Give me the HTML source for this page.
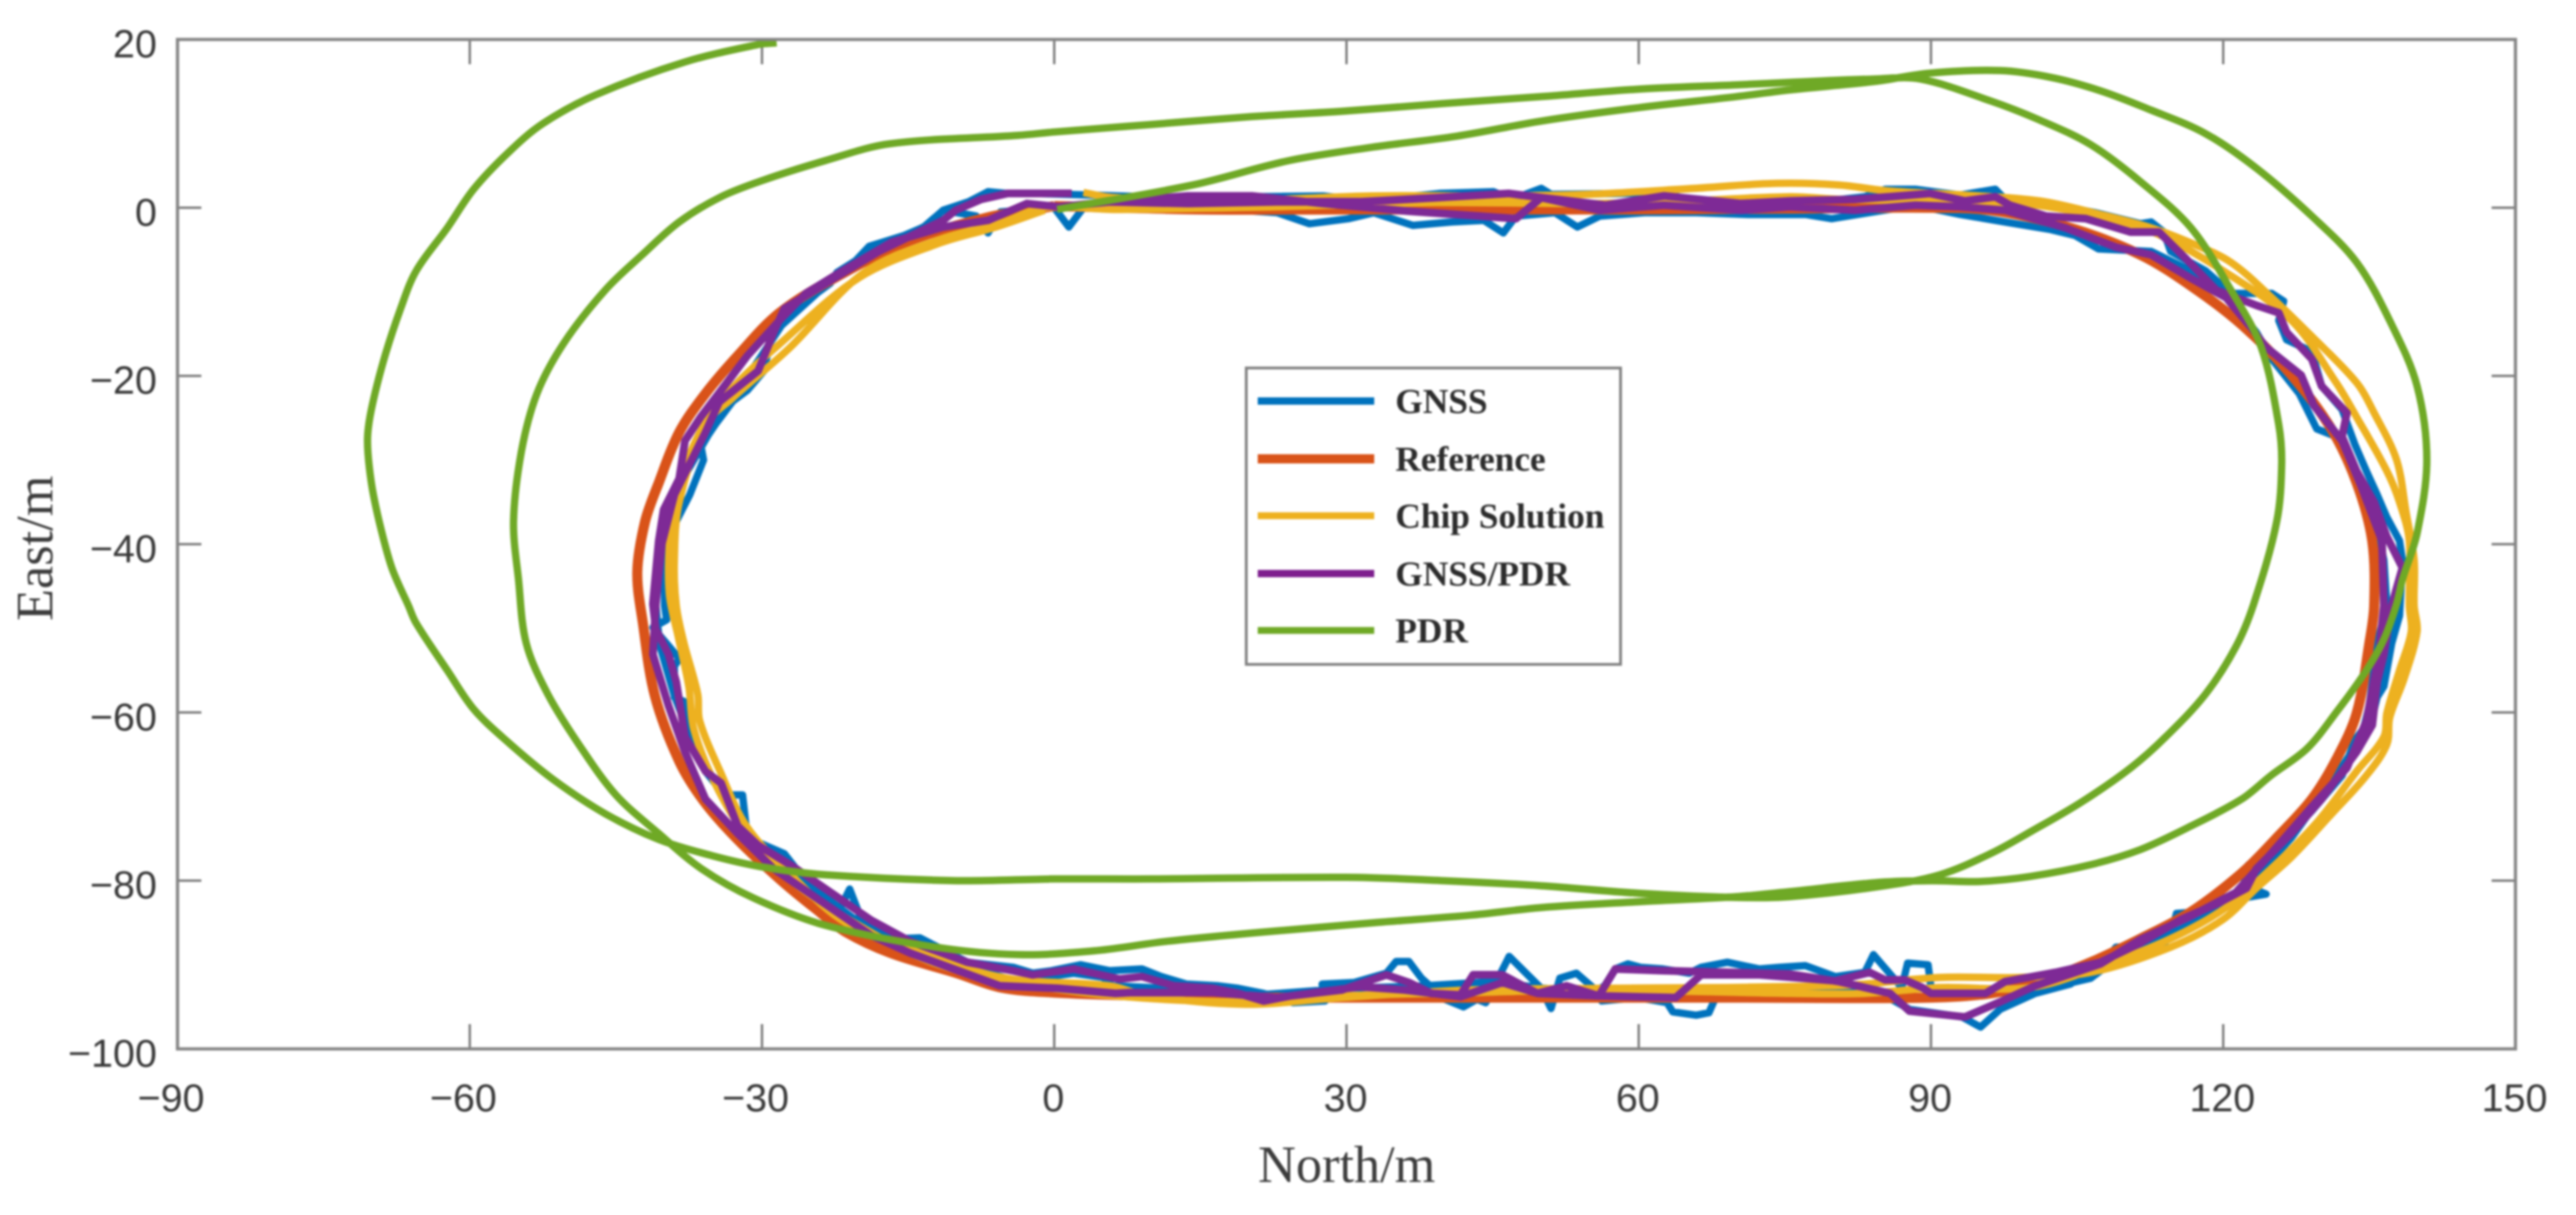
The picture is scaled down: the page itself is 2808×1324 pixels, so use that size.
<!DOCTYPE html>
<html lang="en">
<head>
<meta charset="utf-8">
<title>Trajectory comparison chart</title>
<style>
  html, body { margin: 0; padding: 0; background: #fff; }
  #chart { display: block; width: 2808px; height: 1324px; filter: blur(1px); }
  .tick-label { font-family: "Liberation Sans", sans-serif; font-size: 43px; fill: #383838; }
  .axis-title { font-family: "Liberation Serif", serif; font-size: 57px; fill: #3c3c3c; }
  .legend-text { font-family: "Liberation Serif", serif; font-weight: bold; font-size: 38.5px; fill: #2c2c2c; }
</style>
</head>
<body>
<svg id="chart" xmlns="http://www.w3.org/2000/svg" width="2808" height="1324" viewBox="0 0 2808 1324">
  <rect x="0" y="0" width="2808" height="1324" fill="#fff"/>
  <g id="ticks"></g>
  <g id="series"></g>
  <rect x="193.5" y="43" width="2548.5" height="1100" fill="none" stroke="#858585" stroke-width="3.5"/>
  <text class="axis-title" x="1468" y="1288" text-anchor="middle">North/m</text>
  <text class="axis-title" transform="translate(57,597.5) rotate(-90)" text-anchor="middle">East/m</text>
  <g>
    <rect x="1358.5" y="401" width="408" height="323" fill="#fff" stroke="#808080" stroke-width="3"/>
    <g>
      <line x1="1371" y1="437" x2="1498" y2="437" stroke="#0072BD" stroke-width="8"/>
      <text class="legend-text" x="1521" y="450">GNSS</text>
    </g>
    <g>
      <line x1="1371" y1="500" x2="1498" y2="500" stroke="#D95319" stroke-width="10"/>
      <text class="legend-text" x="1521" y="513">Reference</text>
    </g>
    <g>
      <line x1="1371" y1="562" x2="1498" y2="562" stroke="#EDB120" stroke-width="7.5"/>
      <text class="legend-text" x="1521" y="575">Chip Solution</text>
    </g>
    <g>
      <line x1="1371" y1="625" x2="1498" y2="625" stroke="#7E1F8E" stroke-width="8"/>
      <text class="legend-text" x="1521" y="638">GNSS/PDR</text>
    </g>
    <g>
      <line x1="1371" y1="687" x2="1498" y2="687" stroke="#6FA926" stroke-width="7.5"/>
      <text class="legend-text" x="1521" y="700">PDR</text>
    </g>
  </g>
</svg>
<script>
const xTickValues = [-90, -60, -30, 0, 30, 60, 90, 120, 150];
const yTickValues = [20, 0, -20, -40, -60, -80, -100];

const gnssNorth = [1.1,12.4,27.6,32,39.5,45.1,47,50,51,59.3,61.6,66,75.5,83.2,85.3,88.4,93,96.6,97.6,102.8,106.9,111.5,112.6,113.9,114.6,118.2,120.8,125,126.2,125.7,126.5,129.1,130.1,132.2,133.5,134.7,135.8,136.8,138.1,138.4,138.1,137.3,136.5,135.8,135.3,133.5,132.2,129.1,124.9,122.6,122.1,124.4,121.9,119.8,115.2,114.6,113.6,109,107.4,104.3,100.7,97.1,95.1,93.2,87.8,85,80.2,69.1,68,67.2,65.9,63.5,62.9,59.9,56.2,55.3,53.6,51.9,51,50,46.7,44.3,43.4,42,40.1,37.7,36.4,35.1,34.1,30.8,27.5,27.8,24.5,21.5,18.9,16.9,13.6,11,9,5.7,2.7,-0.3,-2.2,-4.2,-8.9,-13.8,-18,-20,-21,-22.5,-27.7,-31.5,-32,-33.9,-35.8,-37.4,-38,-39,-39,-38.5,-39.8,-41.2,-39.8,-40,-40,-37.4,-36,-36.3,-33,-31.5,-29.8,-29,-27.1,-23,-22.3,-20.4,-19,-15.4,-13.4,-11.4,-8,-6.8,-5.5,0,1.5,3,15,22.9,26.2,30.2,32.8,36.8,40.8,44.1,46.1,47.4,51.4,53.7,56,60.6,65.9,71.2,77.1,79.8,88.4,93,97.6,102.3,104.8,107.2,112.6,116.7,120.8,123.4,125,127.8,129.6,131.6,133.7,135.8,136.5,136.8,135.8,135,134.2,131.6,127,123.4,119.3,113.6,109,106.4,103.8,100.7,96.1,90,89.7,87.6,87,84.1,83.2,80.2,77.1,74.4,72.4,69.1,66.4,65.2,62.5,60.2,58.9,57.6,56.5,55,45,38,30,22,15,6,5,2,-4,-14,-20,-27,-31,-34,-37,-39,-40.5,-41,-40,-38.5,-35.5,-32,-28,-24,-19,-15,-13.1,-11.4,-8.8,-6.8,-4.8,-2.2,1.1];
const gnssEast = [1.6,1.2,1.4,0.8,1.7,1.9,1,2.3,1.6,1.7,1.9,0.8,0.3,1.3,2.2,2.2,1.5,2.2,1,0.3,-0.6,-1.9,-1.7,-2.9,-5.2,-7.5,-10.2,-10.2,-11.1,-13.4,-15.7,-17.1,-21.2,-24,-28.1,-31.3,-34.1,-36.8,-39.6,-41.9,-48.5,-51.8,-56.9,-58.2,-60.6,-63.3,-67.5,-71.7,-76.8,-78.1,-80.5,-81.6,-82.1,-83.5,-83.9,-86.5,-87.9,-87.9,-90.2,-92.3,-93.4,-95.3,-97.4,-96.2,-95.3,-93.5,-93,-93.4,-93.6,-95.7,-96,-95.6,-94.5,-93.9,-94.3,-92.7,-91,-91.6,-95.2,-92.8,-89,-94.5,-94.1,-95,-94.1,-91.6,-89.6,-89.6,-91,-92.1,-92.3,-94.3,-94.5,-93.4,-92.8,-92.5,-92.3,-91.4,-90.5,-90.7,-90,-90.7,-91,-90.3,-89.7,-86.8,-87,-84,-81,-84.5,-76.8,-74.9,-69.8,-69.8,-67,-63.3,-58.7,-58.2,-54.5,-53.6,-51.8,-49.9,-49,-47.3,-40,-34.1,-30,-28.1,-23,-21.7,-19.4,-15,-12.5,-9,-7.7,-6.3,-4.6,-3.3,-2.3,-0.3,-1,-3,-0.5,0,-2.3,0,0,-0.6,-1.9,-1.3,-0.6,-2.1,-1.7,-1.5,-3,-1,-0.6,-2.3,-1,-0.6,-0.6,-0.8,-0.8,-1.3,0.3,-0.8,-1.7,-2.6,-3.3,-4.9,-5.2,-7.5,-11.1,-14.8,-18,-22.1,-26.3,-27.2,-31.3,-38.2,-41.9,-47.3,-51.8,-59.2,-62.9,-67.5,-74.9,-79.5,-83.7,-86.9,-89.3,-91.6,-92.3,-92,-93.4,-92.7,-90,-89.8,-92.7,-88.8,-90.9,-91.4,-90.1,-90.3,-90.5,-89.7,-90.3,-91,-90.5,-90.3,-89.9,-90.5,-92.5,-93.5,-92,-92.5,-92.8,-93.5,-93,-92.5,-91.5,-91,-92,-88,-85,-79,-75,-70,-64,-58,-52,-46,-38,-33,-27,-21,-14,-9.8,-5,-3.2,-2.1,-0.3,0.7,1.9,1.7,1.7,1.6];

const referenceNorth = [0,15,30,45,60,75,88,96.1,104.3,111.5,116.7,121.9,127,131.1,133.7,135.3,135.5,135,133.7,131.6,129.1,125.5,121.9,116.7,111.5,106.4,101.2,96.1,90,70,50,30,20,10,0,-5.5,-10,-16.8,-21.4,-24,-28,-32.6,-36,-38.5,-41,-42.2,-42.8,-42,-40.6,-38.5,-35.8,-32.5,-28.2,-22,-15,-7,0];
const referenceEast = [0.2,-0.2,-0.2,-0.2,-0.2,-0.1,0,-0.3,-2.4,-5.6,-9.3,-13.9,-19.9,-26.3,-32.7,-39.6,-47.3,-51.8,-60.1,-65.6,-70.3,-74.9,-79.1,-83.7,-86.9,-89.7,-92,-93.4,-93.9,-93.9,-93.9,-93.9,-93.9,-93.7,-93.3,-92.7,-91,-88.6,-86.1,-83.8,-80,-75,-70.5,-65.8,-58,-49.6,-43.3,-37.3,-32.7,-26.7,-22.1,-17.6,-12.5,-8,-4,-1.2,0.2];

const chipNorth = [3,6,15,22.7,32.6,45,55,65.7,74.2,80.6,85.6,93.5,101.2,107.4,112.6,116.7,120.8,125,129.1,133.7,135.5,137.8,138.8,139.6,139.6,139.9,138.6,137.1,136.8,134.7,131.1,127,123.4,120,114.6,106.4,99.2,90.9,83.2,80.2,69.1,55.9,42.7,29.5,19.6,9.6,5.7,-4.9,-13.5,-21.4,-27.3,-31.6,-34.3,-36.4,-36.6,-38,-38.8,-39,-38.5,-35.8,-33,-27.1,-19.5,-11.6,-5.7,-1,6.3,22.7,39.3,55,65,75.5,80.6,90,100,107,113,120,127,131.6,133.7,136.8,138.1,139.1,139.1,139.3,138.1,136.8,136.5,133.7,129.6,124.9,120.3,114.6,107.4,100.2,90.9,83.2,75.7,55.9,42.7,29.5,19.6,6.3,-4.9,-13,-22,-27.5,-32,-35,-37,-37.5,-38.6,-39.5,-39.5,-38.8,-36.5,-33.5,-28,-20,-12,-6,-1];
const chipEast = [1.8,1.2,1,1,1.4,1.4,1.6,2.3,2.9,2.7,2,1.5,0.8,-0.8,-2.4,-4.2,-6.5,-10.7,-15.3,-20.8,-24.4,-30,-36.4,-41.9,-47.3,-50.4,-55.9,-60.6,-63.8,-67.5,-72.1,-77.2,-80.9,-84.6,-87.9,-90.9,-91.5,-91.5,-92.3,-92.5,-92.7,-92.8,-93,-93.9,-94.7,-93.7,-92.5,-91.6,-88.7,-85,-79,-73.5,-67,-61,-57.8,-51.8,-47.3,-41.9,-35,-25.8,-22.6,-16.6,-7.7,-3.7,-1.9,0,-0.2,0.1,0.6,0.5,0.8,1.3,1,0.8,0.4,-1,-3,-7.5,-13.4,-20.8,-24.9,-31.3,-35,-39.6,-47.3,-50.4,-55,-60.1,-62.9,-67,-73.1,-78.6,-83.2,-86.9,-90.2,-92.7,-92.7,-93.4,-93.4,-93,-93.3,-93.7,-94.4,-93.7,-91.9,-89.5,-84,-79.5,-74,-68,-62,-57,-51,-46,-40,-34,-27,-22,-16,-8.3,-4.3,-2.3,-0.3];

const fusionNorth = [5.7,13.7,20.3,27.6,36.2,47.4,50,56.6,62.6,70.5,75.5,82.2,85.8,89.9,93.5,96.6,98.1,101.8,105.9,110.5,113.4,116.2,119.3,123.4,125.7,126.5,129.1,130.1,132.7,132.2,133.7,135.5,136.8,138.4,137.3,136.5,135.8,135.3,133.7,130.1,127,123.4,122.4,119.3,115.7,111.5,107.4,102.8,97.6,95.6,90,89.1,87.3,85.3,83.7,80.2,72.4,66.4,63.8,55.9,52.6,49.6,46,43,41.7,38.7,36.4,34.1,29.5,24.2,21.5,18.9,16.3,12.3,9,6.7,2,-2.2,-4.2,-8.9,-14.8,-18.8,-27.1,-30.4,-32.5,-34.2,-35.8,-37.9,-38.8,-39.6,-40.9,-41.2,-40.6,-40.1,-38.5,-37.9,-36.3,-33.6,-31.5,-28.2,-25.5,-22,-16.7,-11.4,-6.8,-2.8,0.5,5.7,13.7,22.9,31.5,39.5,46.7,50,56,62.6,70.5,75.5,82.2,88.4,93,97.6,103.8,109,112.6,116.7,120.3,122.9,124.4,128,129.3,132.2,134.2,136.3,136.5,136,134.7,132.7,129.1,124.9,121.3,116.7,111.5,107.4,100.7,97.1,93.5,87.8,85.8,80.6,75.5,62.5,57.6,55.9,49.6,46,41.7,36,31.4,22.9,16.3,7.8,6.3,0.4,-5.6,-14.8,-18.8,-28.8,-32.5,-35.8,-37.9,-39.6,-41.2,-40.9,-40.3,-39,-35.8,-34.4,-30.4,-28.8,-27.7,-23.9,-18,-13.4,-11.4,-10.1,-7.5,-4.8,1.8];
const fusionEast = [0.7,1.4,1.4,0.5,-0.4,-1.3,1.2,0.3,1.4,0.5,0.8,1,1.3,1.7,0.8,1.3,0.3,-1,-1.3,-2.9,-2.9,-6.1,-9.8,-11.6,-12.5,-14.8,-18,-21.2,-24.4,-27.2,-31.3,-35,-39.1,-42.8,-47.3,-53.1,-56.4,-61.5,-64.7,-70.3,-74.4,-78.6,-80.9,-82.8,-84.6,-87.4,-89.7,-90.9,-92,-93.4,-93.4,-92.7,-91.8,-91.8,-90.9,-91.9,-91.2,-91.2,-93.9,-93.7,-92.5,-93.4,-91.2,-91.2,-93.6,-93.4,-92.1,-91.2,-93,-93.7,-94.3,-93.4,-92.8,-92.5,-91.4,-91.7,-90.5,-91.2,-90.7,-89.7,-87.2,-84.7,-78.1,-75.8,-73.5,-68.4,-67,-62.9,-56.4,-53.1,-50.1,-47.1,-39.6,-35.9,-32.2,-27.7,-24.9,-20.8,-17.6,-13.4,-10.2,-7.7,-4.1,-2.3,-1.5,0.5,0.1,0.7,0.5,0.7,0.7,1.2,1.7,1.2,-0.3,0.3,-0.3,0.1,-0.3,0.3,0.1,-0.3,-2.4,-4.7,-5.6,-8.4,-10.7,-14.3,-16.6,-19.9,-23.5,-27.7,-33.2,-39.6,-47.3,-53,-61,-66.6,-71.2,-76.8,-81.4,-84.2,-87,-89.9,-92.5,-94.4,-96.2,-95.5,-93.4,-92,-91.1,-90.7,-90.5,-93.7,-93.4,-92.1,-93.8,-93,-92.6,-93.9,-93.3,-93.3,-93.4,-92.8,-92.5,-88.6,-86.5,-78.6,-74.4,-70.3,-64.7,-59.2,-53.1,-47.1,-40,-34.1,-26.7,-23.1,-19.4,-14.8,-12,-9.3,-5.2,-2.6,-1.5,-0.3,1,1.7,1.7];

const pdrNorth = [0.3,14.2,24.1,32.7,41.3,50,60,70,75.5,84.2,89.9,97.1,102.3,107.4,112.6,118.2,123.4,129.1,133.7,137.3,139.9,140.9,139.9,138.4,137.8,136.5,134.7,131.6,128.6,124.9,121.9,116.7,111.5,106.4,100.2,95,90,84.7,75.5,70,60,50,42.7,32.8,21.5,11.6,4.4,-3.6,-12.2,-23.5,-30.8,-36.2,-40.6,-45,-48.8,-52,-54.2,-55,-55.5,-54.7,-53.1,-50.4,-46.1,-42.3,-38.5,-34.2,-29.8,-23.5,-16.9,-3.7,0,10,20,30,40,50,60,70,75.5,84.2,88.9,96.1,101.2,106.4,111.5,116.7,120.8,123.9,125.7,126,125.5,123.1,121.3,118.2,114.1,110.5,105.4,100.2,96.1,90.9,84.7,75.5,70,60,50,40,30,10,0,-10,-23.5,-29.8,-35.2,-40.6,-46,-51.4,-56.3,-59.6,-62.3,-65.5,-66.3,-68,-69.3,-70.1,-70.5,-70.1,-68.8,-67.1,-65.5,-62.3,-59.6,-56.1,-52.5,-47.1,-38,-30.4,-28.5];
const pdrEast = [-0.2,2.7,5.6,7.2,8.5,10.3,11.9,13.2,14,15,16,16.3,15.5,13.9,11.6,8.8,4.7,-1,-6.5,-13.9,-21.2,-30,-38.7,-44.2,-47.1,-51.3,-55,-60,-64.3,-67.5,-70.3,-73.5,-76.3,-78.1,-79.5,-80.1,-80,-80.2,-81.3,-81.9,-82.5,-83.2,-84.1,-85,-86.1,-87.2,-88.3,-88.8,-87.9,-85.3,-82.1,-78.6,-74.4,-69.8,-63.8,-57.8,-51.8,-44.2,-37.3,-29,-22.1,-16.2,-9.8,-5.6,-1.7,1.3,3.3,5.6,7.6,8.6,9,9.9,10.8,11.5,12.4,13.2,14.1,14.6,14.9,15.3,15.3,12.7,10.4,7.5,3.1,-2.4,-9.8,-16.6,-25.8,-30.4,-37.3,-47.2,-52.2,-57.8,-62.9,-66.6,-70.7,-74.2,-76.8,-79.3,-80.7,-81.9,-82,-81.5,-80.6,-80,-79.6,-79.8,-79.8,-80,-79.3,-78.4,-77,-75.1,-72.1,-68,-63.3,-59.6,-55,-49.4,-47.3,-42.8,-37.3,-32.7,-27.7,-24,-18,-12,-7.5,-2.4,2.2,6.5,10,13.4,17.3,19.4,19.6];

const SVG_NS = 'http://www.w3.org/2000/svg';
const plotLeft = 193.5, plotRight = 2742, plotTop = 43, plotBottom = 1143;
const xMin = -90, xMax = 150, yMin = -100, yMax = 20;
function xScale(v) { return plotLeft + (v - xMin) / (xMax - xMin) * (plotRight - plotLeft); }
function yScale(v) { return plotBottom - (v - yMin) / (yMax - yMin) * (plotBottom - plotTop); }
function formatTick(v) { return v < 0 ? '\u2212' + Math.abs(v) : String(v); }

const ticksGroup = document.getElementById('ticks');
const seriesGroup = document.getElementById('series');

xTickValues.forEach(function (v) {
  const px = xScale(v);
  [[plotBottom, plotBottom - 27], [plotTop, plotTop + 27]].forEach(function (pair) {
    const tick = document.createElementNS(SVG_NS, 'line');
    
    
    tick.setAttribute('x1', px);
    tick.setAttribute('x2', px);
    tick.setAttribute('y1', pair[0]);
    tick.setAttribute('y2', pair[1]);
    tick.setAttribute('stroke', '#777');
    tick.setAttribute('stroke-width', '2.5');
    ticksGroup.appendChild(tick);
  });
  const label = document.createElementNS(SVG_NS, 'text');
  
  
  label.setAttribute('class', 'tick-label');
  label.setAttribute('x', px + (v < 0 ? -7 : -1));
  label.setAttribute('y', 1211);
  label.setAttribute('text-anchor', 'middle');
  label.textContent = formatTick(v);
  ticksGroup.appendChild(label);
});

yTickValues.forEach(function (v) {
  const py = yScale(v);
  [[plotLeft, plotLeft + 26], [plotRight, plotRight - 26]].forEach(function (pair) {
    const tick = document.createElementNS(SVG_NS, 'line');
    
    
    tick.setAttribute('x1', pair[0]);
    tick.setAttribute('x2', pair[1]);
    tick.setAttribute('y1', py);
    tick.setAttribute('y2', py);
    tick.setAttribute('stroke', '#777');
    tick.setAttribute('stroke-width', '2.5');
    ticksGroup.appendChild(tick);
  });
  const label = document.createElementNS(SVG_NS, 'text');
  
  
  label.setAttribute('class', 'tick-label');
  label.setAttribute('x', 171);
  label.setAttribute('y', py + 19.5);
  label.setAttribute('text-anchor', 'end');
  label.textContent = formatTick(v);
  ticksGroup.appendChild(label);
});

function smoothPath(pts) {
  let d = 'M' + pts[0][0].toFixed(1) + ' ' + pts[0][1].toFixed(1);
  function tangent(i) {
    const a = pts[Math.max(i - 1, 0)], b = pts[Math.min(i + 1, pts.length - 1)];
    const dx = b[0] - a[0], dy = b[1] - a[1];
    const len = Math.hypot(dx, dy) || 1;
    return [dx / len, dy / len];
  }
  for (let i = 0; i < pts.length - 1; i++) {
    const p = pts[i], q = pts[i + 1];
    const seg = Math.hypot(q[0] - p[0], q[1] - p[1]) / 3;
    const t0 = tangent(i), t1 = tangent(i + 1);
    d += 'C' + (p[0] + t0[0] * seg).toFixed(1) + ' ' + (p[1] + t0[1] * seg).toFixed(1) + ' ' +
         (q[0] - t1[0] * seg).toFixed(1) + ' ' + (q[1] - t1[1] * seg).toFixed(1) + ' ' +
         q[0].toFixed(1) + ' ' + q[1].toFixed(1);
  }
  return d;
}

function linePath(pts) {
  return pts.map(function (p, i) {
    return (i === 0 ? 'M' : 'L') + p[0].toFixed(1) + ' ' + p[1].toFixed(1);
  }).join('');
}

function drawSeries(name, norths, easts, color, width, smooth) {
  const count = Math.min(norths.length, easts.length);
  const pts = [];
  for (let i = 0; i < count; i++) {
    pts.push([xScale(norths[i]), yScale(easts[i])]);
  }
  const path = document.createElementNS(SVG_NS, 'path');
  
  
  path.setAttribute('d', smooth ? smoothPath(pts) : linePath(pts));
  path.setAttribute('fill', 'none');
  path.setAttribute('stroke', color);
  path.setAttribute('stroke-width', width);
  path.setAttribute('stroke-linejoin', 'round');
  path.setAttribute('stroke-linecap', 'butt');
  seriesGroup.appendChild(path);
}

drawSeries('gnss-line', gnssNorth, gnssEast, '#0072BD', 8, false);
drawSeries('reference-line', referenceNorth, referenceEast, '#D95319', 11, true);
drawSeries('chip-solution-line', chipNorth, chipEast, '#EDB120', 8, true);
drawSeries('gnss-pdr-line', fusionNorth, fusionEast, '#7E2A96', 8.5, false);
drawSeries('pdr-line', pdrNorth, pdrEast, '#6FA926', 8, true);
</script>
</body>
</html>
